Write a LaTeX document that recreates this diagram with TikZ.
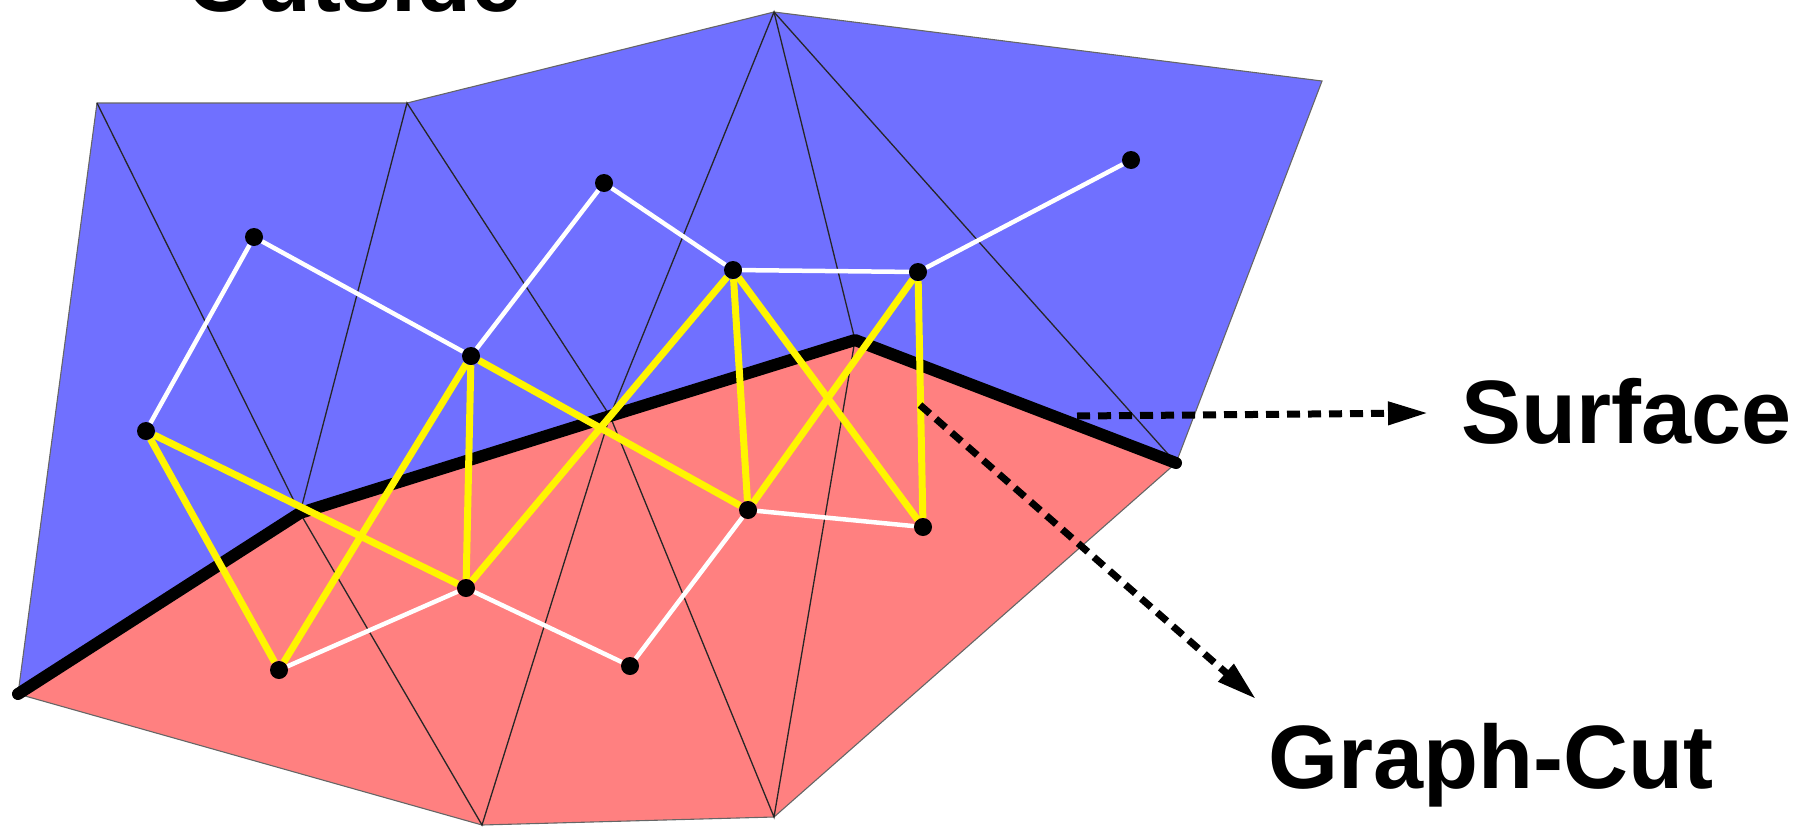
\documentclass[tikz,border=0pt]{standalone}
\usepackage{fontspec}
\setmainfont{Liberation Sans}
\usetikzlibrary{arrows.meta}
\definecolor{outsideblue}{RGB}{112,112,255}
\definecolor{insidered}{RGB}{255,128,128}
\definecolor{cutyellow}{RGB}{255,245,0}

\begin{document}
\begin{tikzpicture}[x=1pt,y=-1pt,
  mesh/.style={line width=1.3pt, draw=black!85},
  rim/.style={line width=1.1pt, draw=black!60},
  surfline/.style={line width=12pt, line cap=round, line join=round},
  tlink/.style={draw=white, line width=4.5pt},
  nlink/.style={draw=cutyellow, line width=7pt},
  vtx/.style={circle, fill=black, inner sep=0pt, minimum size=18pt},
  pointer/.style={line width=7pt, dash pattern=on 13pt off 8pt,
    -{Triangle[length=40pt,width=22pt]}},
  caption/.style={font=\fontsize{90}{100}\selectfont\bfseries,
    inner sep=0pt, anchor=base west}
]
\useasboundingbox (0,0) rectangle (1803,827);
\clip (0,0) rectangle (1803,827);

% mesh vertices
\coordinate (P1) at (97,103);
\coordinate (P2) at (407,103);
\coordinate (P3) at (774,12);
\coordinate (P4) at (1322,81);
\coordinate (P5) at (1176,463);
\coordinate (P6) at (774,817);
\coordinate (P7) at (482,825);
\coordinate (P8) at (18,694);
\coordinate (S2) at (300,513);
\coordinate (S3) at (610,416);
\coordinate (S4) at (855,340);

% outside and inside regions
\fill[outsideblue] (P8) -- (P1) -- (P2) -- (P3) -- (P4) -- (P5)
  -- (S4) -- (S3) -- (S2) -- cycle;
\fill[insidered] (P8) -- (S2) -- (S3) -- (S4) -- (P5) -- (P6) -- (P7) -- cycle;
\draw[rim] (P8) -- (P1) -- (P2) -- (P3) -- (P4) -- (P5) -- (P6) -- (P7) -- cycle;

% triangulation
\draw[mesh] (P1) -- (S2) -- (P2) -- (S3) -- (P3) -- (S4);
\draw[mesh] (P3) -- (P5);
\draw[mesh] (S2) -- (P7) -- (S3) -- (P6) -- (S4);

% reconstructed surface
\draw[surfline] (P8) -- (S2) -- (S3) -- (S4) -- (P5);

% graph nodes, one per triangle
\node[vtx] (G) at (146,431) {};
\node[vtx] (A) at (254,237) {};
\node[vtx] (C) at (471,356) {};
\node[vtx] (B) at (604,183) {};
\node[vtx] (D) at (733,270) {};
\node[vtx] (F) at (918,272) {};
\node[vtx] (E) at (1131,160) {};
\node[vtx] (H) at (279,670) {};
\node[vtx] (I) at (466,588) {};
\node[vtx] (J) at (630,666) {};
\node[vtx] (K) at (748,510) {};
\node[vtx] (M) at (923,527) {};

% links inside one region
\draw[tlink] (G) -- (A) -- (C) -- (B) -- (D) -- (F) -- (E);
\draw[tlink] (H) -- (I) -- (J) -- (K) -- (M);

% links that are cut
\draw[nlink] (G) -- (H);
\draw[nlink] (G) -- (I);
\draw[nlink] (C) -- (H);
\draw[nlink] (C) -- (I);
\draw[nlink] (C) -- (K);
\draw[nlink] (D) -- (I);
\draw[nlink] (D) -- (K);
\draw[nlink] (D) -- (M);
\draw[nlink] (F) -- (K);
\draw[nlink] (F) -- (M);

% labels
\node[caption] (outlabel) at (186,12) {Outside};
\node[caption] (surflabel) at (1461,443) {Surface};
\node[caption] (cutlabel) at (1268,788) {Graph-Cut};

% pointers
\coordinate (sTail) at (1077,416);
\coordinate (sTip) at (1428,413);
\coordinate (cTail) at (920,405);
\coordinate (cTip) at (1256,699);
\draw[pointer] (sTail) -- (sTip);
\draw[pointer] (cTail) -- (cTip);
\end{tikzpicture}
\end{document}
